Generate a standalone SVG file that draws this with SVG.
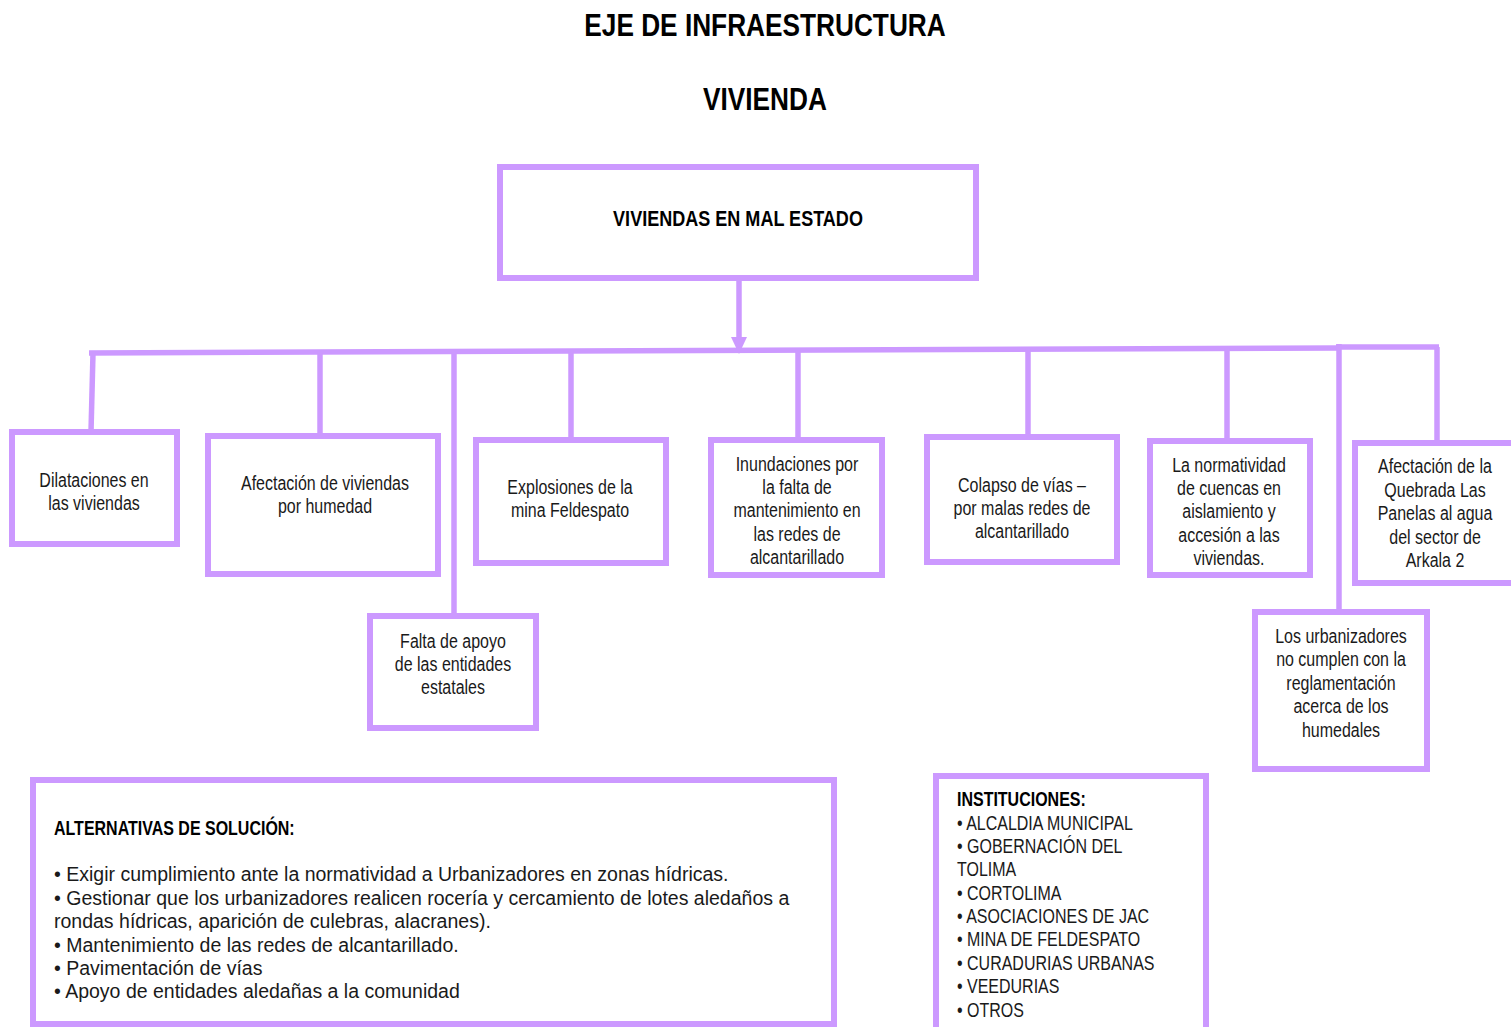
<svg xmlns="http://www.w3.org/2000/svg" width="1511" height="1027" viewBox="0 0 1511 1027">
<style>
.box{fill:#fff;stroke:#CC99FF;stroke-width:6}
.con{fill:none;stroke:#CC99FF;stroke-width:5.5}
.n{font-family:'Liberation Sans',Arial,sans-serif;font-size:19.5px;fill:#1a1a1a}
.c{text-anchor:middle}
.b{font-weight:bold;fill:#000}
.r{font-family:'Liberation Sans',Arial,sans-serif;font-size:19.5px;fill:#1a1a1a}
</style>
<rect width="1511" height="1027" fill="#fff"/>
<text class="n b c" transform="translate(765,0) scale(.82,1)" y="36" style="font-size:32px">EJE DE INFRAESTRUCTURA</text>
<text class="n b c" transform="translate(765,0) scale(.82,1)" y="110" style="font-size:32px">VIVIENDA</text>

<g id="connectors">
<line class="con" x1="739" y1="278" x2="739" y2="340"/>
<polygon points="731,337 747,337 739,354" fill="#CC99FF"/>
<polyline class="con" points="89,353 1339,348"/>
<polyline class="con" points="1336,347 1439,347"/>
<line class="con" x1="93" y1="353" x2="91" y2="432"/>
<line class="con" x1="320" y1="352" x2="320" y2="436"/>
<line class="con" x1="454" y1="352" x2="454" y2="616"/>
<line class="con" x1="571" y1="351" x2="571" y2="440"/>
<line class="con" x1="798" y1="350" x2="798" y2="440"/>
<line class="con" x1="1028" y1="349" x2="1028" y2="437"/>
<line class="con" x1="1227" y1="348" x2="1227" y2="441"/>
<line class="con" x1="1339" y1="344" x2="1339" y2="612"/>
<line class="con" x1="1437" y1="347" x2="1437" y2="443"/>
</g>

<g id="root">
<rect class="box" x="500" y="167" width="476" height="111"/>
<text class="n b c" transform="translate(738,0) scale(.82,1)" y="226" style="font-size:22px">VIVIENDAS EN MAL ESTADO</text>
</g>

<g id="n1">
<rect class="box" x="12" y="432" width="165" height="112"/>
<g transform="translate(94,0) scale(.82,1)">
<text class="n c" y="487">Dilataciones en</text>
<text class="n c" y="510">las viviendas</text>
</g>
</g>

<g id="n2">
<rect class="box" x="208" y="436" width="230" height="138"/>
<g transform="translate(325,0) scale(.82,1)">
<text class="n c" y="490">Afectación de viviendas</text>
<text class="n c" y="513">por humedad</text>
</g>
</g>

<g id="n3">
<rect class="box" x="370" y="616" width="166" height="112"/>
<g transform="translate(453,0) scale(.82,1)">
<text class="n c" y="648">Falta de apoyo</text>
<text class="n c" y="671">de las entidades</text>
<text class="n c" y="694">estatales</text>
</g>
</g>

<g id="n4">
<rect class="box" x="476" y="440" width="190" height="123"/>
<g transform="translate(570,0) scale(.82,1)">
<text class="n c" y="494">Explosiones de la</text>
<text class="n c" y="517">mina Feldespato</text>
</g>
</g>

<g id="n5">
<rect class="box" x="711" y="440" width="171" height="135"/>
<g transform="translate(797,0) scale(.82,1)">
<text class="n c" y="471">Inundaciones por</text>
<text class="n c" y="494">la falta de</text>
<text class="n c" y="517.5">mantenimiento en</text>
<text class="n c" y="541">las redes de</text>
<text class="n c" y="564">alcantarillado</text>
</g>
</g>

<g id="n6">
<rect class="box" x="927" y="437" width="190" height="125"/>
<g transform="translate(1022,0) scale(.82,1)">
<text class="n c" y="492">Colapso de vías –</text>
<text class="n c" y="515">por malas redes de</text>
<text class="n c" y="538">alcantarillado</text>
</g>
</g>

<g id="n7">
<rect class="box" x="1150" y="441" width="160" height="134"/>
<g transform="translate(1229,0) scale(.82,1)">
<text class="n c" y="472">La normatividad</text>
<text class="n c" y="495">de cuencas en</text>
<text class="n c" y="518.5">aislamiento y</text>
<text class="n c" y="542">accesión a las</text>
<text class="n c" y="565">viviendas.</text>
</g>
</g>

<g id="n8">
<rect class="box" x="1355" y="443" width="162" height="140"/>
<g transform="translate(1435,0) scale(.82,1)">
<text class="n c" y="473">Afectación de la</text>
<text class="n c" y="497">Quebrada Las</text>
<text class="n c" y="520">Panelas al agua</text>
<text class="n c" y="544">del sector de</text>
<text class="n c" y="567">Arkala 2</text>
</g>
</g>

<g id="n9">
<rect class="box" x="1255" y="612" width="172" height="157"/>
<g transform="translate(1341,0) scale(.82,1)">
<text class="n c" y="643">Los urbanizadores</text>
<text class="n c" y="666">no cumplen con la</text>
<text class="n c" y="690">reglamentación</text>
<text class="n c" y="713">acerca de los</text>
<text class="n c" y="737">humedales</text>
</g>
</g>

<g id="alternativas">
<rect class="box" x="33" y="780" width="801" height="244"/>
<text class="n b" transform="translate(54,0) scale(.82,1)" y="835">ALTERNATIVAS DE SOLUCIÓN:</text>
<text class="r" x="54" y="881">• Exigir cumplimiento ante la normatividad a Urbanizadores en zonas hídricas.</text>
<text class="r" x="54" y="904.5">• Gestionar que los urbanizadores realicen rocería y cercamiento de lotes aledaños a</text>
<text class="r" x="54" y="928">rondas hídricas, aparición de culebras, alacranes).</text>
<text class="r" x="54" y="951.5">• Mantenimiento de las redes de alcantarillado.</text>
<text class="r" x="54" y="975">• Pavimentación de vías</text>
<text class="r" x="54" y="998">• Apoyo de entidades aledañas a la comunidad</text>
</g>

<g id="instituciones">
<rect class="box" x="936" y="776" width="270" height="262"/>
<g transform="translate(957,0) scale(.82,1)">
<text class="n b" y="806">INSTITUCIONES:</text>
<text class="n" y="830">• ALCALDIA MUNICIPAL</text>
<text class="n" y="853">• GOBERNACIÓN DEL</text>
<text class="n" y="876.5">TOLIMA</text>
<text class="n" y="900">• CORTOLIMA</text>
<text class="n" y="923">• ASOCIACIONES DE JAC</text>
<text class="n" y="946.5">• MINA DE FELDESPATO</text>
<text class="n" y="970">• CURADURIAS URBANAS</text>
<text class="n" y="993">• VEEDURIAS</text>
<text class="n" y="1017">• OTROS</text>
</g>
</g>
</svg>
